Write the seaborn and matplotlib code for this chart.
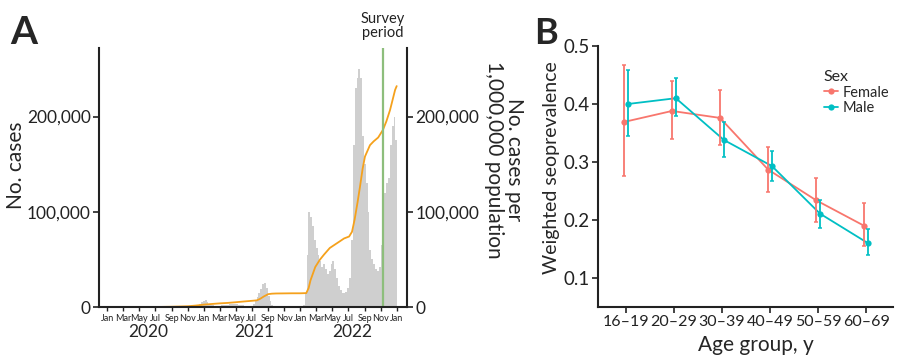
import matplotlib
matplotlib.use("Agg")
import matplotlib.pyplot as plt
import matplotlib.dates as mdates
import matplotlib.ticker as mticker
import numpy as np
import pandas as pd
import seaborn as sns

# ---------------- Panel A: cases (weekly, in thousands) ----------------
week_start = "2020-11-02"
weekly_cases_k = [
    # 2020 Nov-Dec
    0.3, 0.4, 0.6, 0.8, 1.2, 1.8, 3.0, 5.0, 6.5,
    # 2021 Jan-Jun
    7.5, 5.5, 3.5, 2.5, 2.0, 1.5, 1.5, 1.5, 1.5, 2.0, 2.0, 2.0, 2.5,
    3.0, 3.5, 3.5, 3.5, 3.0, 2.5, 2.5, 2.0, 1.5, 1.0, 1.0, 1.0, 1.5,
    # 2021 Jul-Dec
    3, 6, 10, 15, 19, 24, 25, 20, 12, 6, 2.5, 1, 0.5,
    0.3, 0.3, 0.3, 0.3, 0.3, 0.3, 0.3, 0.3, 0.3, 0.3, 0.3, 0.3, 0.3,
    # 2022 Jan-Jun
    0.5, 2, 15, 55, 100, 95, 85, 70, 62, 55, 48, 42, 45,
    40, 35, 38, 45, 48, 40, 30, 22, 18, 15, 15, 16, 20,
    # 2022 Jul-Dec
    30, 70, 170, 230, 240, 250, 240, 180, 150, 130, 100, 60, 50,
    45, 40, 38, 42, 65, 70, 120, 130, 135, 170, 190, 200, 175,
]

# cumulative cases per 1,000,000 population (thousands)
cum_dates = [
    "2020-07-01", "2020-09-01", "2020-11-01", "2020-12-01", "2021-01-01",
    "2021-02-01", "2021-03-01", "2021-04-01", "2021-05-01", "2021-06-01",
    "2021-07-01", "2021-07-20", "2021-08-01", "2021-08-15", "2021-09-01",
    "2021-09-15", "2021-10-01", "2021-11-01", "2021-12-01", "2022-01-01",
    "2022-01-23", "2022-02-01", "2022-02-08", "2022-02-26", "2022-03-15",
    "2022-03-31", "2022-04-22", "2022-05-30", "2022-06-15", "2022-07-04",
    "2022-07-15", "2022-07-25", "2022-08-05", "2022-08-14", "2022-08-24",
    "2022-09-02", "2022-09-21", "2022-10-05", "2022-10-22", "2022-11-09",
    "2022-11-22", "2022-12-06", "2022-12-25", "2022-12-31",
]
cum_per_million_k = [
    0, 0.3, 0.8, 1.5, 2.5,
    3.2, 3.8, 4.3, 5.0, 5.8,
    6.5, 7.0, 8.5, 11, 13.5,
    14.0, 14.2, 14.3, 14.4, 14.4,
    14.6, 20, 28, 42, 49.5,
    55, 62, 69, 72, 74,
    79, 92, 110, 126, 145,
    158, 170, 174, 178, 186,
    195, 207, 228, 232,
]
survey_date = "2022-11-09"
year_labels = ["2020", "2021", "2022"]
year_label_dates = ["2020-06-05", "2021-07-12", "2022-07-15"]

# ---------------- Panel B: seroprevalence by age and sex ----------------
age_groups = ["16–19", "20–29", "30–39", "40–49", "50–59", "60–69"]
female_est = [0.369, 0.388, 0.376, 0.287, 0.234, 0.190]
female_lo = [0.276, 0.340, 0.330, 0.249, 0.197, 0.155]
female_hi = [0.468, 0.440, 0.425, 0.326, 0.272, 0.229]
male_est = [0.400, 0.410, 0.338, 0.293, 0.211, 0.160]
male_lo = [0.344, 0.379, 0.309, 0.268, 0.187, 0.139]
male_hi = [0.458, 0.444, 0.369, 0.319, 0.235, 0.184]

sns.set_style("ticks")
plt.rcParams["font.family"] = ["Lato", "DejaVu Sans"]
plt.rcParams["axes.edgecolor"] = "#222222"
plt.rcParams["xtick.color"] = "#222222"
plt.rcParams["ytick.color"] = "#222222"

fig = plt.figure(figsize=(9, 3.6), dpi=100)

# ===== Panel A =====
axA = fig.add_axes([99 / 900, 1 - 307 / 360, 308 / 900, 259 / 360])
weeks = pd.date_range(week_start, periods=len(weekly_cases_k), freq="7D")
cases = np.array(weekly_cases_k) * 1000
axA.bar(weeks, cases, width=7, align="edge", color="#cfcfcf", linewidth=0)

cum_df = pd.DataFrame({"date": pd.to_datetime(cum_dates),
                       "value": np.array(cum_per_million_k) * 1000})
sns.lineplot(data=cum_df, x="date", y="value", color="#f5a11c", lw=1.3, ax=axA)

axA.axvline(pd.Timestamp(survey_date), color="#8dbe7c", lw=1.6)
axA.text(pd.Timestamp(survey_date), 1.03, "Survey\nperiod", transform=axA.get_xaxis_transform(),
         ha="center", va="bottom", fontsize=10.5, linespacing=1.05, color="#222222")

axA.set_xlim(pd.Timestamp("2019-12-01"), pd.Timestamp("2023-02-08"))
axA.set_ylim(0, 272000)
axA.xaxis.set_major_locator(mdates.MonthLocator(bymonth=[1, 3, 5, 7, 9, 11]))
axA.xaxis.set_major_formatter(mdates.DateFormatter("%b"))
axA.tick_params(axis="x", labelsize=6.5, length=3, width=1, pad=2)
axA.set_yticks([0, 100000, 200000])
axA.yaxis.set_major_formatter(mticker.FuncFormatter(lambda v, p: f"{v:,.0f}"))
axA.tick_params(axis="y", labelsize=12.5, length=4, width=1.2, pad=2)
axA.set_xlabel("")
axA.set_ylabel("")
for s in ["left", "bottom"]:
    axA.spines[s].set_linewidth(1.5)
axA.spines["top"].set_visible(False)
axA.spines["right"].set_visible(False)

axA2 = axA.twinx()
axA2.set_ylim(axA.get_ylim())
axA2.set_yticks([0, 100000, 200000])
axA2.yaxis.set_major_formatter(mticker.FuncFormatter(lambda v, p: f"{v:,.0f}"))
axA2.tick_params(axis="y", labelsize=12.5, length=4, width=1.2, pad=2)
axA2.spines["right"].set_linewidth(1.5)
axA2.spines["top"].set_visible(False)
axA2.spines["left"].set_visible(False)
axA2.spines["bottom"].set_visible(False)

for lab, d in zip(year_labels, year_label_dates):
    axA.text(pd.Timestamp(d), -0.097, lab, transform=axA.get_xaxis_transform(),
             ha="center", va="center", fontsize=12.5)

fig.text(16 / 900, 1 - 165 / 360, "No. cases", rotation=90, ha="center", va="center", fontsize=15)
fig.text(504 / 900, 1 - 160 / 360, "No. cases per\n1,000,000 population", rotation=270,
         ha="center", va="center", fontsize=15, linespacing=1.0)
fig.text(24 / 900, 1 - 33 / 360, "A", fontsize=28, fontweight="bold", ha="center", va="center")

# ===== Panel B =====
axB = fig.add_axes([598 / 900, 1 - 307 / 360, 295 / 900, 261 / 360])
colors = {"Female": "#F8766D", "Male": "#00BFC4"}
offsets = {"Female": -0.04, "Male": 0.04}
rows = []
for sex, est, lo, hi in [("Female", female_est, female_lo, female_hi),
                         ("Male", male_est, male_lo, male_hi)]:
    for i, g in enumerate(age_groups):
        rows.append({"sex": sex, "age": g, "pos": i + offsets[sex],
                     "est": est[i], "lo": lo[i], "hi": hi[i]})
df = pd.DataFrame(rows)

sns.lineplot(data=df, x="pos", y="est", hue="sex", palette=colors, marker="o",
             markersize=4.5, markeredgewidth=0, lw=1.3, ax=axB)
for sex, sub in df.groupby("sex"):
    axB.errorbar(sub["pos"], sub["est"], yerr=[sub["est"] - sub["lo"], sub["hi"] - sub["est"]],
                 fmt="none", ecolor=colors[sex], elinewidth=1.3, capsize=1.5, capthick=1.1)

axB.set_xticks(range(len(age_groups)))
axB.set_xticklabels(age_groups)
axB.set_xlim(-0.58, 5.56)
axB.set_ylim(0.05, 0.5)
axB.set_yticks([0.1, 0.2, 0.3, 0.4, 0.5])
axB.tick_params(axis="y", labelsize=13.5, length=4, width=1.2, pad=2)
axB.tick_params(axis="x", labelsize=11.5, length=4, width=1.2, pad=2)
axB.set_xlabel("")
axB.set_ylabel("")
axB.spines["top"].set_visible(False)
axB.spines["right"].set_visible(False)
for s in ["left", "bottom"]:
    axB.spines[s].set_linewidth(1.5)

leg = axB.legend(title="Sex", frameon=False, loc="upper left", bbox_to_anchor=(0.745, 0.93),
                 fontsize=10.5, title_fontsize=11.5, handlelength=1.0, handletextpad=0.3,
                 labelspacing=0.1, alignment="left", borderaxespad=0)

fig.text(552 / 900, 1 - 168 / 360, "Weighted seoprevalence", rotation=90, ha="center", va="center", fontsize=14)
fig.text(756 / 900, 1 - 345 / 360, "Age group, y", ha="center", va="center", fontsize=15)
fig.text(546 / 900, 1 - 33 / 360, "B", fontsize=26, fontweight="bold", ha="center", va="center")

fig.savefig("out.png", dpi=100)
